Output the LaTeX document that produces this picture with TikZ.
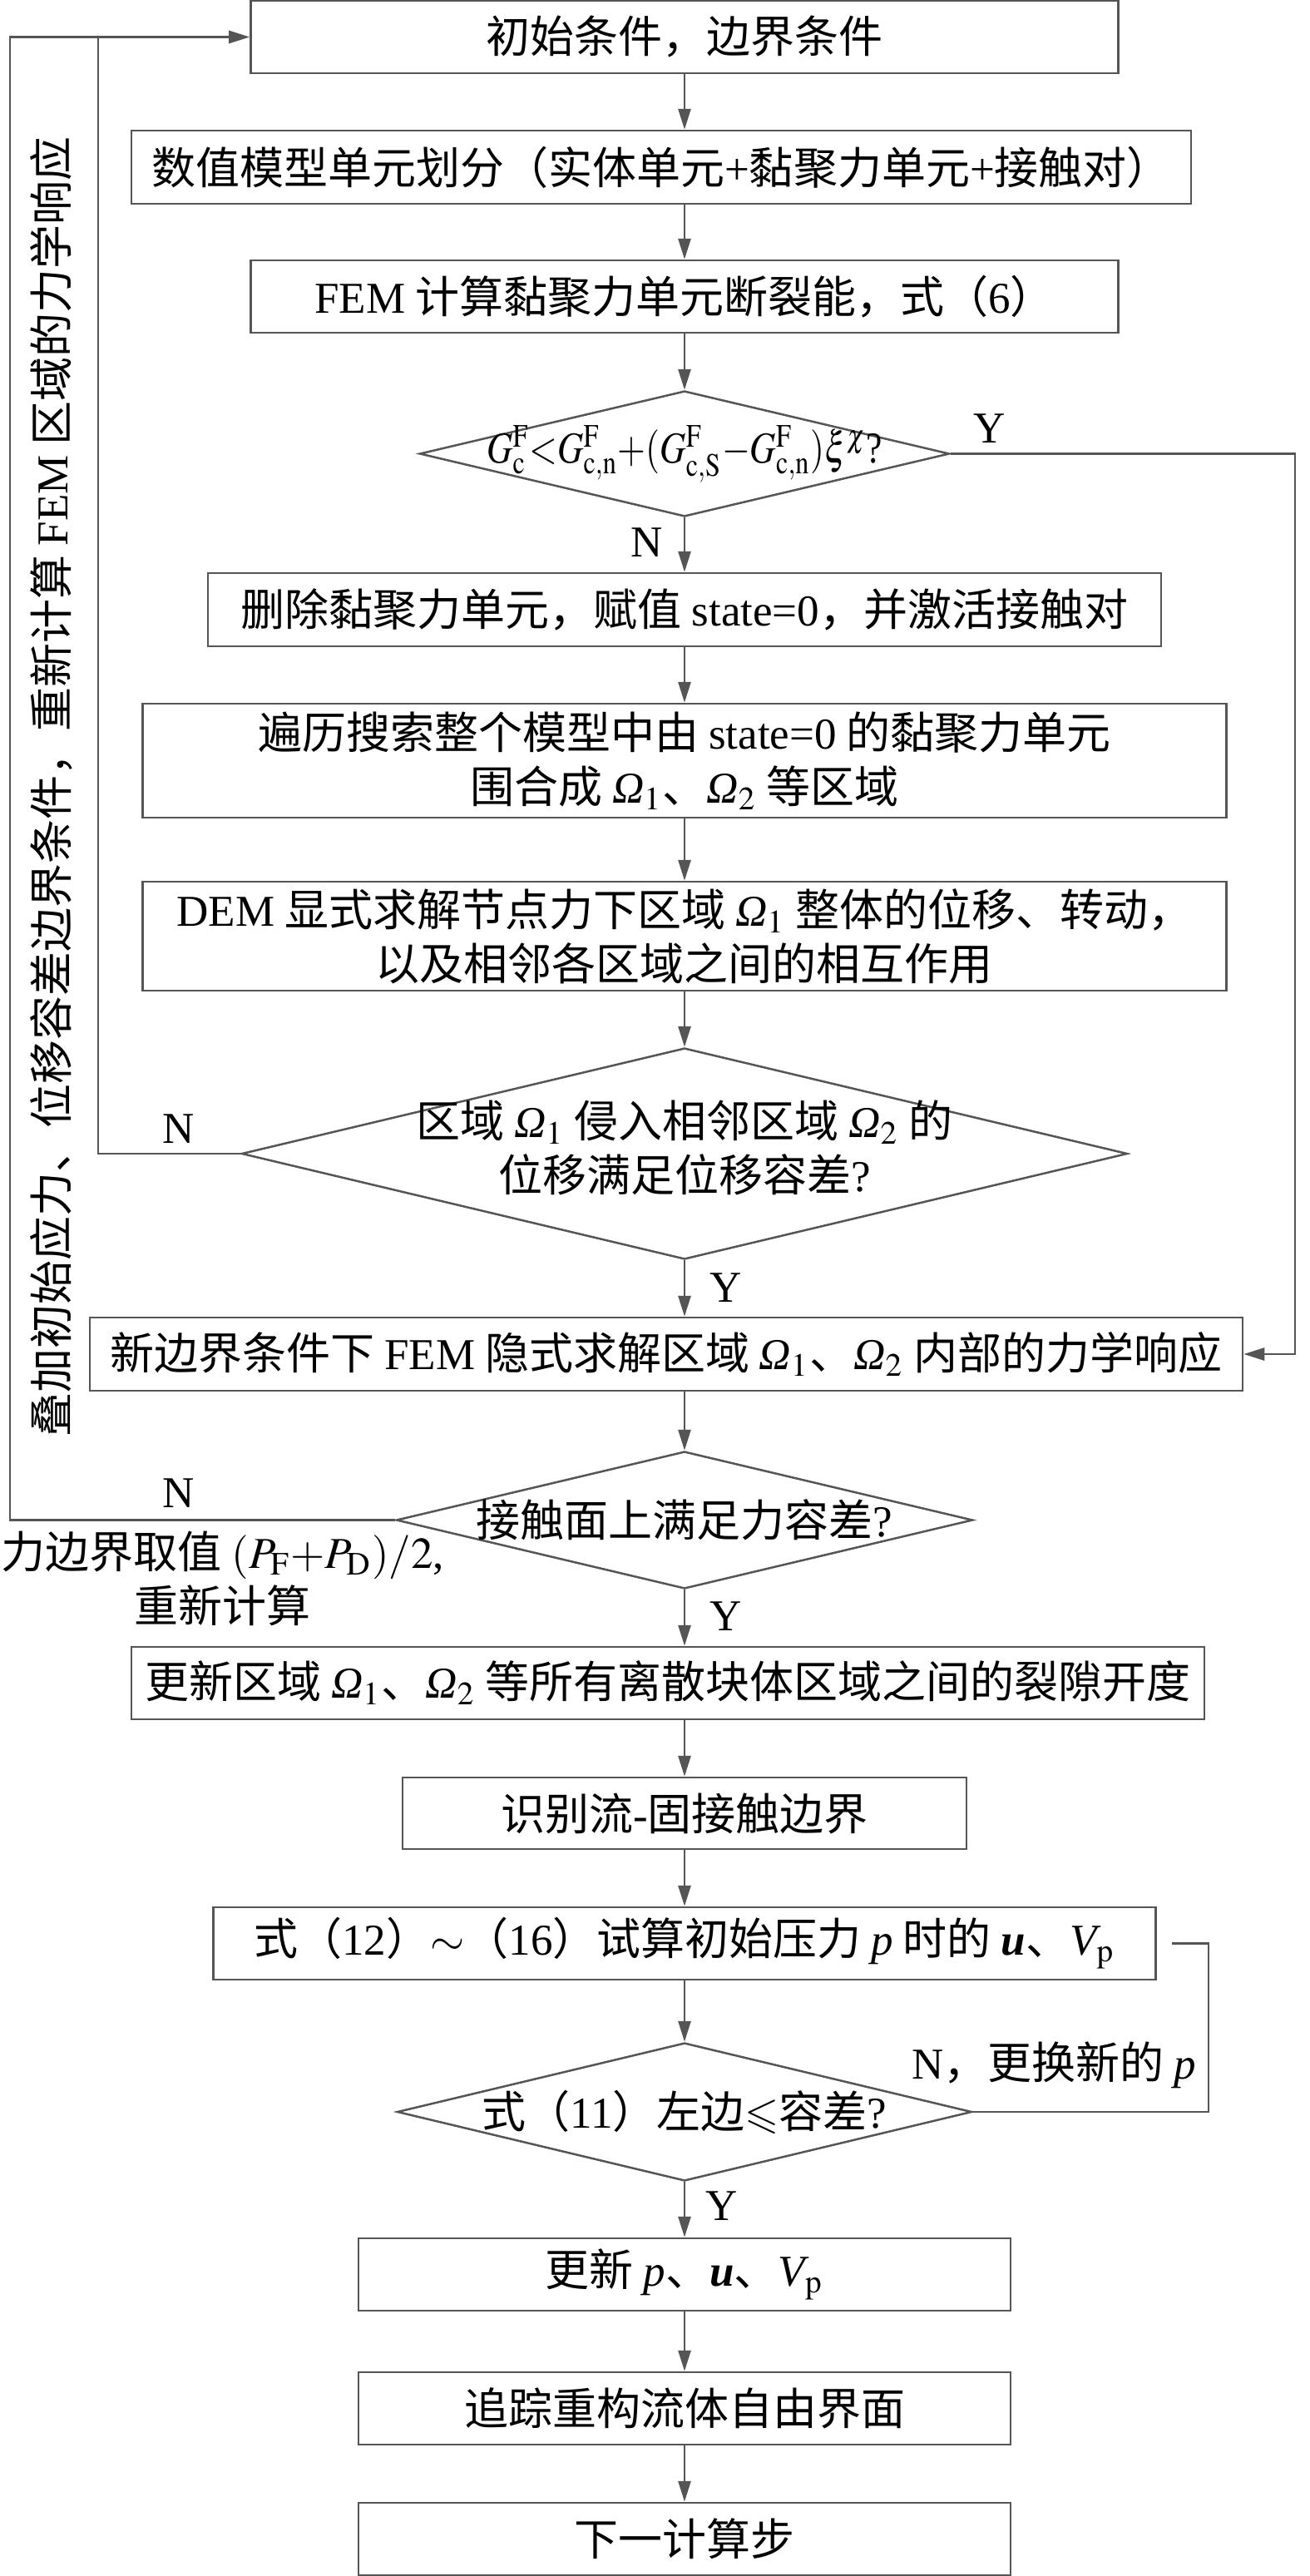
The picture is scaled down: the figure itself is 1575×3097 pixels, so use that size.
\documentclass[tikz,border=0pt]{standalone}
\usepackage{graphicx}
\usepackage{mathptmx}
\usepackage{amssymb}
\usepackage[no-math]{fontspec}
\setmainfont{Noto Sans CJK SC}
\newfontfamily\enfont{Liberation Serif}
\usetikzlibrary{shapes.geometric,arrows.meta}
\newcommand{\tm}[1]{{\enfont #1}}
\newcommand{\vi}[1]{{\enfont\itshape #1}}
\newcommand{\Om}[1]{{\enfont\itshape Ω}$_{#1}$}
\newcommand{\bu}{{\enfont\bfseries\itshape u}}

\begin{document}
\begin{tikzpicture}[x=0.2pt, y=-0.2pt, every node/.style={font=\fontsize{10.6}{13}\selectfont}]
        \pgfdeclarelayer{nodelayer}
        \pgfdeclarelayer{edgelayer}
        \pgfsetlayers{main,nodelayer,edgelayer}
        \definecolor{linegray}{HTML}{555555}
        \tikzstyle{block}=[draw=linegray, line width=0.5pt, shape=rectangle, inner sep=1pt, align=center]
        \tikzstyle{decision}=[draw=linegray, line width=0.5pt, shape=diamond, inner sep=0pt, align=center]
        \tikzstyle{note}=[fill=none, draw=none, inner sep=0pt]
        \tikzstyle{arrow}=[-{Triangle[length=5pt, width=3pt]}, draw=linegray, line width=0.55pt]
        \tikzstyle{return line}=[draw=linegray, line width=0.55pt]
        \useasboundingbox (0,0) rectangle (1575,3097);
        \begin{pgfonlayer}{nodelayer}
            \node [style=block, minimum width=208.6pt, minimum height=17.4pt] (1) at (823, 44.5) {初始条件，边界条件};
            \node [style=block, minimum width=254.8pt, minimum height=17.6pt] (2) at (795, 201) {数值模型单元划分（实体单元\tm{+}黏聚力单元\tm{+}接触对）};
            \node [style=block, minimum width=208.6pt, minimum height=17.4pt] (3) at (823, 356.5) {\tm{FEM} 计算黏聚力单元断裂能，式（\tm{6}）};
            \node [style=decision, minimum width=127.4pt, minimum height=30.2pt] (4) at (823, 545.5) {\makebox[0pt]{\scalebox{0.82}[1]{$G^{\mathrm{F}}_{\mathrm{c}}{<}G^{\mathrm{F}}_{\mathrm{c,n}}{+}(G^{\mathrm{F}}_{\mathrm{c,S}}{-}G^{\mathrm{F}}_{\mathrm{c,n}})\xi^{\chi}$\tm{?}}}};
            \node [style=block, minimum width=229.2pt, minimum height=17.6pt] (5) at (823, 733) {删除黏聚力单元，赋值 \tm{state=0}，并激活接触对};
            \node [style=block, minimum width=260.6pt, minimum height=27.4pt] (6) at (823, 914.5) {遍历搜索整个模型中由 \tm{state=0} 的黏聚力单元\\围合成 \Om{1}、\Om{2} 等区域};
            \node [style=block, minimum width=260.6pt, minimum height=26.2pt] (7) at (823, 1125.5) {\tm{DEM} 显式求解节点力下区域 \Om{1} 整体的位移、转动，\\以及相邻各区域之间的相互作用};
            \node [style=decision, minimum width=213pt, minimum height=50.8pt] (8) at (823, 1387) {\makebox[0pt]{\begin{tabular}{@{}c@{}}区域 \Om{1} 侵入相邻区域 \Om{2} 的\\位移满足位移容差\tm{?}\end{tabular}}};
            \node [style=block, minimum width=277.2pt, minimum height=17.6pt] (9) at (801, 1628) {新边界条件下 \tm{FEM} 隐式求解区域 \Om{1}、\Om{2} 内部的力学响应};
            \node [style=decision, minimum width=138.6pt, minimum height=33pt] (10) at (823, 1827.5) {\makebox[0pt]{接触面上满足力容差\tm{?}}};
            \node [style=block, minimum width=258pt, minimum height=17.4pt] (11) at (803, 2023.5) {更新区域 \Om{1}、\Om{2} 等所有离散块体区域之间的裂隙开度};
            \node [style=block, minimum width=135.6pt, minimum height=17.2pt] (12) at (823, 2180) {识别流\tm{-}固接触边界};
            \node [style=block, minimum width=226.6pt, minimum height=17.4pt] (13) at (823, 2336.5) {式（\tm{12}）${\sim}$（\tm{16}）试算初始压力 \vi{p} 时的 \bu、\vi{V}$_{\mathrm{p}}$};
            \node [style=decision, minimum width=138.2pt, minimum height=33.2pt] (14) at (823, 2539) {\makebox[0pt]{式（\tm{11}）左边$\leqslant$容差\tm{?}}};
            \node [style=block, minimum width=156.8pt, minimum height=17.4pt] (15) at (823, 2734.5) {更新 \vi{p}、\bu、\vi{V}$_{\mathrm{p}}$};
            \node [style=block, minimum width=156.8pt, minimum height=17.4pt] (16) at (823, 2895.5) {追踪重构流体自由界面};
            \node [style=block, minimum width=156.8pt, minimum height=17.4pt] (17) at (823, 3052.5) {下一计算步};

            \node [style=note] (18) at (1190, 515) {\tm{Y}};
            \node [style=note] (19) at (778, 652) {\tm{N}};
            \node [style=note] (20) at (215, 1357) {\tm{N}};
            \node [style=note] (21) at (873, 1548) {\tm{Y}};
            \node [style=note] (22) at (215, 1795) {\tm{N}};
            \node [style=note, align=center] (23) at (268, 1898) {力边界取值 $(P_{\mathrm{F}}{+}P_{\mathrm{D}})/2$\tm{,}\\重新计算};
            \node [style=note] (24) at (873, 1943) {\tm{Y}};
            \node [style=note] (25) at (1267, 2483) {\tm{N}，更换新的 \vi{p}};
            \node [style=note] (26) at (868, 2652) {\tm{Y}};
            \node [style=note, rotate=90] (27) at (62, 946) {叠加初始应力、位移容差边界条件，重新计算 \tm{FEM} 区域的力学响应};

            \coordinate (28) at (12, 44.5);
            \coordinate (29) at (118, 44.5);
            \coordinate (30) at (1557, 1628);
            \coordinate (31) at (1453, 2336.5);
        \end{pgfonlayer}
        \begin{pgfonlayer}{edgelayer}
            \draw [style=arrow] (1.south) to (1.south |- 2.north);
            \draw [style=arrow] (3.north |- 2.south) to (3.north);
            \draw [style=arrow] (3.south) to (4.north);
            \draw [style=arrow] (4.south) to (5.north);
            \draw [style=arrow] (5.south) to (6.north);
            \draw [style=arrow] (6.south) to (7.north);
            \draw [style=arrow] (7.south) to (8.north);
            \draw [style=arrow] (8.south) to (8.south |- 9.north);
            \draw [style=arrow] (10.north |- 9.south) to (10.north);
            \draw [style=arrow] (10.south) to (10.south |- 11.north);
            \draw [style=arrow] (12.north |- 11.south) to (12.north);
            \draw [style=arrow] (12.south) to (13.north);
            \draw [style=arrow] (13.south) to (14.north);
            \draw [style=arrow] (14.south) to (15.north);
            \draw [style=arrow] (15.south) to (16.north);
            \draw [style=arrow] (16.south) to (17.north);

            % loops back to the top
            \draw [style=arrow] (10.west) -| (28) -- (1.west);
            \draw [style=return line] (8.west) -| (29);
            \draw [style=arrow] (4.east) -| (30) -- (9.east);
            \draw [style=return line, shorten >=3.6pt] (14.east) -| (31) -- (13.east);
        \end{pgfonlayer}
    \end{tikzpicture}
\end{document}
